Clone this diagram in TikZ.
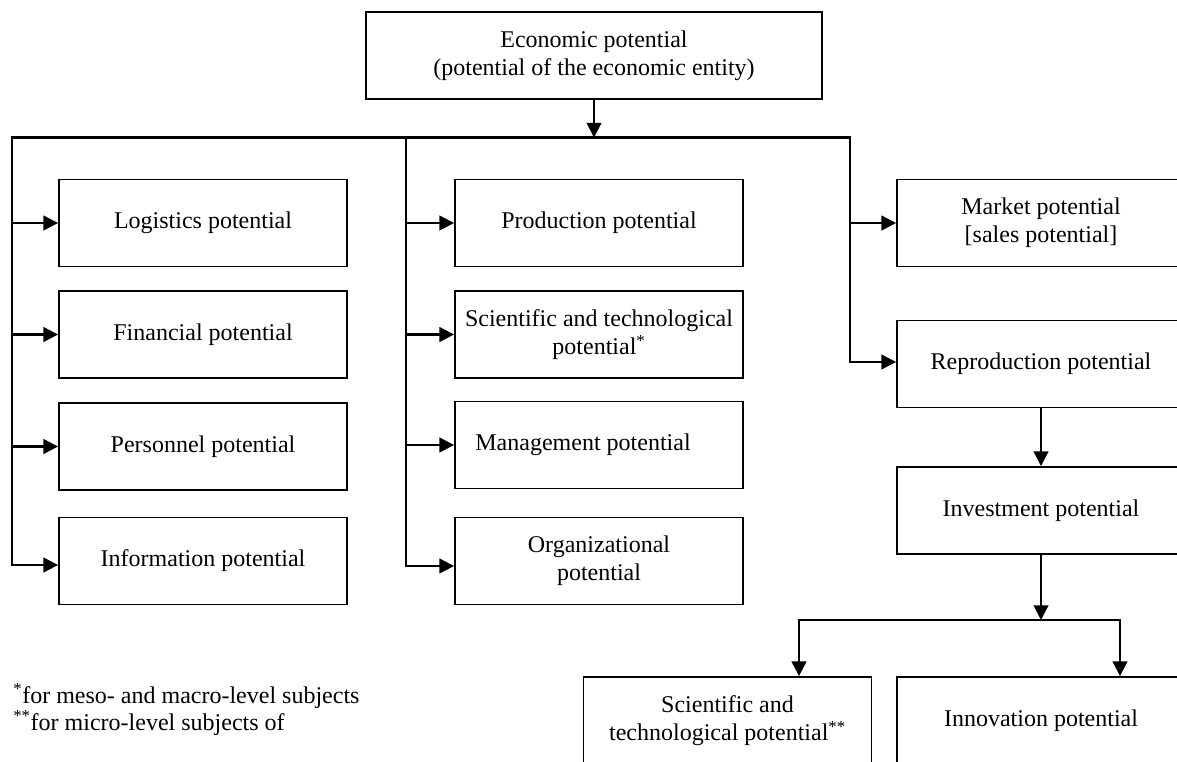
\documentclass[tikz,border=0pt]{standalone}
\usepackage{fontspec}
\setmainfont{Liberation Serif}
\usetikzlibrary{arrows.meta}
\begin{document}
\begin{tikzpicture}[x=0.75pt,y=-0.75pt,
  boxfont/.style={font=\fontsize{18}{21}\selectfont},
  box/.style={draw, line width=1.4pt, rectangle, minimum width=216pt, minimum height=65.25pt, inner sep=0pt, align=center, boxfont},
  topbox/.style={box, minimum width=342pt},
  conn/.style={line width=1.6pt, line cap=rect},
  arr/.style={line width=1.6pt, -{Triangle[length=11pt,width=11pt]}},
  note/.style={anchor=base west, inner sep=0pt, boxfont}
]
\useasboundingbox (0,0) rectangle (1177,761);
\clip (0,0) rectangle (1177,761);
\fill[white] (0,0) rectangle (1177,761);

% boxes
\node[topbox] (econ) at (594,55.5) {Economic potential\\(potential of the economic entity)};

\node[box] (log) at (203,223) {Logistics potential};
\node[box] (fin) at (203,334.5) {Financial potential};
\node[box] (per) at (203,446.5) {Personnel potential};
\node[box] (inf) at (203,561) {Information potential};

\node[box] (prod) at (599,223) {Production potential};
\node[box] (sci) at (599,334.5) {Scientific and technological\\potential\textsuperscript{*}};
\node[box, label={[boxfont, xshift=-12pt]center:Management potential}] (man) at (599,445) {};
\node[box] (org) at (599,561) {Organizational\\potential};

\node[box] (mkt) at (1041,223) {Market potential\\{[sales potential]}};
\node[box] (rep) at (1041,364) {Reproduction potential};
\node[box] (inv) at (1041,510.5) {Investment potential};

\node[box] (sci2) at (727.5,720.5) {Scientific and\\technological potential\textsuperscript{**}};
\node[box] (inn) at (1041,720.5) {Innovation potential};

% connector points
\coordinate (hub) at (594,137.5);
\coordinate (tl) at (12,137.5);
\coordinate (tm) at (406,137.5);
\coordinate (tr) at (850,137.5);
\coordinate (lb) at (12,565);
\coordinate (mb) at (406,566);
\coordinate (rb) at (850,362);
\coordinate (bh) at (1041,620);
\coordinate (bl) at (799,620);
\coordinate (br) at (1120,620);

% trunk lines
\draw[conn] (lb) -- (tl) -- (tr) -- (rb);
\draw[conn] (tm) -- (mb);
\draw[arr] (econ) -- (hub);

% left column
\draw[arr] (tl |- log.west) -- (log.west);
\draw[arr] (tl |- fin.west) -- (fin.west);
\draw[arr] (tl |- per.west) -- (per.west);
\draw[arr] (lb) -- (lb -| inf.west);

% middle column
\draw[arr] (tm |- prod.west) -- (prod.west);
\draw[arr] (tm |- sci.west) -- (sci.west);
\draw[arr] (tm |- man.west) -- (man.west);
\draw[arr] (mb) -- (mb -| org.west);

% right column
\draw[arr] (tr |- mkt.west) -- (mkt.west);
\draw[arr] (rb) -- (rb -| rep.west);
\draw[arr] (rep) -- (inv);
\draw[arr] (inv) -- (bh);
\draw[conn] (bl) -- (br);
\draw[arr] (bl) -- (bl |- sci2.north);
\draw[arr] (br) -- (br |- inn.north);

% footnotes
\node[note] (fn1) at (13,703) {\textsuperscript{*}for meso- and macro-level subjects};
\node[note] (fn2) at (13,730) {\textsuperscript{**}for micro-level subjects of};
\end{tikzpicture}
\end{document}
